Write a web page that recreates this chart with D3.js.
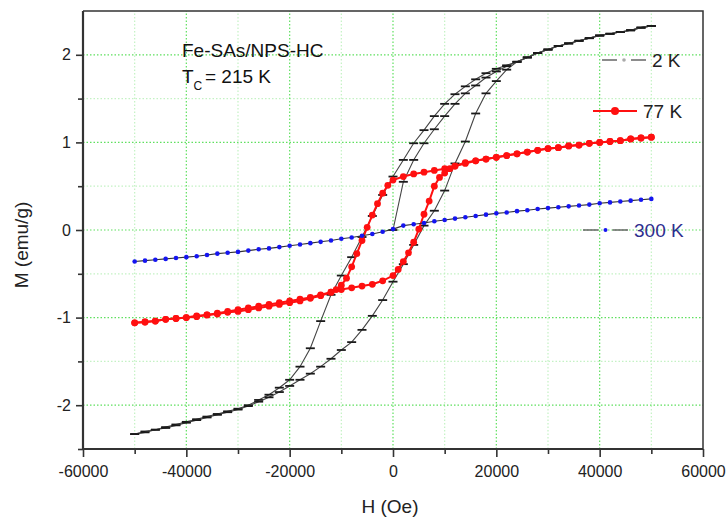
<!DOCTYPE html>
<html>
<head>
<meta charset="utf-8">
<script src="https://cdn.jsdelivr.net/npm/d3@7"></script>
<style>
  body { margin: 0; background: #fff; }
  svg { display: block; font-family: 'Liberation Sans', Arial, sans-serif; }
</style>
</head>
<body>
<div id="chart"></div>
<script>
// applied field (Oe) for the 2 K and 300 K sweeps
const fieldOe = [
  -50000, -48000, -46000, -44000, -42000, -40000, -38000, -36000, -34000, -32000,
  -30000, -28000, -26000, -24000, -22000, -20000, -18000, -16000, -14000, -12000,
  -10000, -8000, -6000, -4000, -2000, 0, 2000, 4000, 6000, 8000,
  10000, 12000, 14000, 16000, 18000, 20000, 22000, 24000, 26000, 28000,
  30000, 32000, 34000, 36000, 38000, 40000, 42000, 44000, 46000, 48000,
  50000
];

// 2 K: descending branch, ascending branch, virgin curve (H >= 0)
const m2kDown = [
  -2.33, -2.30, -2.28, -2.25, -2.22, -2.19, -2.16, -2.13, -2.10, -2.07,
  -2.04, -2.00, -1.94, -1.88, -1.80, -1.71, -1.56, -1.35, -1.04, -0.74,
  -0.52, -0.31, -0.08, 0.16, 0.40, 0.61, 0.80, 0.99, 1.14, 1.30,
  1.44, 1.55, 1.64, 1.72, 1.79, 1.84, 1.88, 1.92, 1.97, 2.02,
  2.06, 2.10, 2.13, 2.16, 2.19, 2.22, 2.24, 2.26, 2.28, 2.31,
  2.33
];
const m2kUp = [
  -2.33, -2.31, -2.28, -2.26, -2.23, -2.20, -2.17, -2.14, -2.11, -2.08,
  -2.05, -2.01, -1.96, -1.91, -1.85, -1.78, -1.71, -1.64, -1.56, -1.47,
  -1.37, -1.28, -1.14, -0.98, -0.80, -0.59, -0.39, -0.17, 0.05, 0.22,
  0.45, 0.76, 1.01, 1.33, 1.56, 1.70, 1.83, 1.92, 1.97, 2.02,
  2.06, 2.10, 2.13, 2.16, 2.19, 2.22, 2.24, 2.26, 2.28, 2.31,
  2.33
];
const m2kVirgin = [
  0.00, 0.55, 0.80, 0.99, 1.15, 1.30, 1.44, 1.56, 1.65, 1.74,
  1.81, 1.87, 1.92, 1.97, 2.02, 2.06, 2.10, 2.13, 2.16, 2.19,
  2.22, 2.24, 2.26, 2.28, 2.31, 2.33
];

// 77 K, finer steps across the switching field
const field77Down = [
  -50000, -48000, -46000, -44000, -42000, -40000, -38000, -36000, -34000, -32000,
  -30000, -28000, -26000, -24000, -22000, -20000, -18000, -16000, -14000, -12000,
  -11000, -10000, -9000, -8000, -7000, -6000, -5000, -4000, -3000, -2000, -1000, 0,
  2000, 4000, 6000, 8000, 10000, 12000, 14000, 16000, 18000, 20000,
  22000, 24000, 26000, 28000, 30000, 32000, 34000, 36000, 38000, 40000,
  42000, 44000, 46000, 48000, 50000
];
const m77kDown = [
  -1.06, -1.05, -1.04, -1.02, -1.01, -1.00, -0.98, -0.97, -0.95, -0.93,
  -0.91, -0.89, -0.87, -0.85, -0.83, -0.81, -0.79, -0.77, -0.74, -0.71,
  -0.68, -0.63, -0.55, -0.42, -0.27, -0.12, 0.03, 0.17, 0.30, 0.42, 0.51, 0.57,
  0.61, 0.64, 0.66, 0.68, 0.70, 0.73, 0.76, 0.79, 0.81, 0.83,
  0.85, 0.87, 0.89, 0.91, 0.93, 0.94, 0.96, 0.97, 0.99, 1.00,
  1.01, 1.02, 1.04, 1.05, 1.06
];
const field77Up = [
  -50000, -48000, -46000, -44000, -42000, -40000, -38000, -36000, -34000, -32000,
  -30000, -28000, -26000, -24000, -22000, -20000, -18000, -16000, -14000, -12000,
  -10000, -8000, -6000, -4000, -2000, 0,
  1000, 2000, 3000, 4000, 5000, 6000, 7000, 8000, 9000, 10000, 11000, 12000,
  14000, 16000, 18000, 20000, 22000, 24000, 26000, 28000, 30000, 32000,
  34000, 36000, 38000, 40000, 42000, 44000, 46000, 48000, 50000
];
const m77kUp = [
  -1.06, -1.05, -1.04, -1.02, -1.01, -1.00, -0.99, -0.97, -0.96, -0.94,
  -0.93, -0.91, -0.89, -0.87, -0.85, -0.83, -0.81, -0.78, -0.75, -0.71,
  -0.68, -0.66, -0.64, -0.62, -0.58, -0.52,
  -0.45, -0.36, -0.26, -0.14, 0.01, 0.18, 0.33, 0.50, 0.60, 0.65, 0.70, 0.73,
  0.77, 0.79, 0.81, 0.83, 0.85, 0.87, 0.89, 0.91, 0.93, 0.94,
  0.96, 0.97, 0.99, 1.00, 1.01, 1.02, 1.04, 1.05, 1.06
];

// 300 K
const m300k = [
  -0.36, -0.35, -0.34, -0.33, -0.32, -0.31, -0.30, -0.285, -0.27, -0.26,
  -0.25, -0.235, -0.22, -0.21, -0.195, -0.18, -0.165, -0.15, -0.135, -0.12,
  -0.10, -0.085, -0.065, -0.045, -0.02, 0.01, 0.05, 0.065, 0.08, 0.10,
  0.115, 0.13, 0.145, 0.16, 0.175, 0.19, 0.20, 0.215, 0.225, 0.24,
  0.25, 0.26, 0.27, 0.28, 0.29, 0.305, 0.315, 0.325, 0.335, 0.345,
  0.355
];

const xTicks = [-60000, -40000, -20000, 0, 20000, 40000, 60000];
const xMinor = [-50000, -30000, -10000, 10000, 30000, 50000];
const yTicks = [-2, -1, 0, 1, 2];
const yMinor = [-2.5, -1.5, -0.5, 0.5, 1.5];

const width = 726;
const height = 518;
const margin = { top: 11, left: 83, bottom: 69, right: 23 };

const svg = d3
  .select('#chart')
  .append('svg')
  .attr('width', width)
  .attr('height', height);

const x = d3
  .scaleLinear()
  .domain([-60000, 60000])
  .range([margin.left, width - margin.right]);

const y = d3
  .scaleLinear()
  .domain([-2.5, 2.5])
  .range([height - margin.bottom, margin.top]);

const x0 = x.range()[0], x1 = x.range()[1];
const y0 = y.range()[0], y1 = y.range()[1];

// dotted green grid, brighter on major ticks
const grid = svg.append('g').attr('fill', 'none').attr('stroke-dasharray', '1.5 2').attr('stroke-width', 1.2);
const gridLines = (vals, vertical, color) => {
  grid
    .append('g')
    .selectAll('line')
    .data(vals.filter((v) => (vertical ? v > -60000 && v < 60000 : v > -2.5 && v < 2.5)))
    .join('line')
    .attr('x1', (d) => (vertical ? x(d) : x0))
    .attr('x2', (d) => (vertical ? x(d) : x1))
    .attr('y1', (d) => (vertical ? y0 : y(d)))
    .attr('y2', (d) => (vertical ? y1 : y(d)))
    .attr('stroke', color);
};
gridLines(xMinor, true, '#c4f2c4');
gridLines(yMinor, false, '#c4f2c4');
gridLines(xTicks, true, '#5fe05f');
gridLines(yTicks, false, '#5fe05f');

// axes
const fmt = (d) => String(d);
const styleAxis = (g) => {
  g.select('.domain').remove();
  g.selectAll('.tick line').attr('stroke', '#333').attr('stroke-width', 1.6);
  g.selectAll('.tick text').attr('fill', '#222').attr('font-size', 16).attr('font-family', "'Liberation Sans', Arial, sans-serif");
};

svg.append('g')
  .attr('transform', `translate(0,${y0})`)
  .call(d3.axisBottom(x).tickValues(xTicks).tickSize(8).tickSizeOuter(0).tickPadding(9).tickFormat(fmt))
  .call(styleAxis);
svg.append('g')
  .attr('transform', `translate(0,${y0})`)
  .call(d3.axisBottom(x).tickValues(xMinor).tickSize(5).tickSizeOuter(0).tickFormat(''))
  .call(styleAxis);
svg.append('g')
  .attr('transform', `translate(${x0},0)`)
  .call(d3.axisLeft(y).tickValues(yTicks).tickSize(7).tickSizeOuter(0).tickPadding(5).tickFormat(fmt))
  .call(styleAxis);
svg.append('g')
  .attr('transform', `translate(${x0},0)`)
  .call(d3.axisLeft(y).tickValues(yMinor).tickSize(5).tickSizeOuter(0).tickFormat(''))
  .call(styleAxis);

// frame
svg.append('path')
  .attr('d', `M${x0},${y1}H${x1}V${y0}`)
  .attr('fill', 'none').attr('stroke', '#333').attr('stroke-width', 1.5);
svg.append('path')
  .attr('d', `M${x0},${y1}V${y0}H${x1}`)
  .attr('fill', 'none').attr('stroke', '#333').attr('stroke-width', 2.2);

// axis titles
svg.append('text')
  .attr('x', (x0 + x1) / 2 - 3).attr('y', 513)
  .attr('text-anchor', 'middle').attr('font-size', 19).attr('fill', '#222')
  .text('H (Oe)');
svg.append('text')
  .attr('transform', 'translate(28,245) rotate(-90)')
  .attr('text-anchor', 'middle').attr('font-size', 19).attr('fill', '#222')
  .text('M (emu/g)');

const line = d3.line().x((d) => x(d[0])).y((d) => y(d[1]));
const pairs = (hs, ms) => ms.map((m, i) => [hs[i], m]);

const drawBars = (pts) => {
  const g = svg.append('g');
  g.append('path').datum(pts).attr('d', line)
    .attr('fill', 'none').attr('stroke', '#444').attr('stroke-width', 1.1);
  g.selectAll('line').data(pts).join('line')
    .attr('x1', (d) => x(d[0]) - 4.5).attr('x2', (d) => x(d[0]) + 4.5)
    .attr('y1', (d) => y(d[1])).attr('y2', (d) => y(d[1]))
    .attr('stroke', '#1a1a1a').attr('stroke-width', 1.8);
};

// 2 K
drawBars(pairs(fieldOe, m2kDown));
drawBars(pairs(fieldOe, m2kUp));
drawBars(pairs(fieldOe.slice(25), m2kVirgin));

// 77 K
[[field77Down, m77kDown], [field77Up, m77kUp]].forEach(([hs, ms]) => {
  const pts = pairs(hs, ms);
  const g = svg.append('g');
  g.append('path').datum(pts).attr('d', line)
    .attr('fill', 'none').attr('stroke', '#ff1010').attr('stroke-width', 2);
  g.selectAll('circle').data(pts).join('circle')
    .attr('cx', (d) => x(d[0])).attr('cy', (d) => y(d[1]))
    .attr('r', 3.4).attr('fill', '#ff1010');
});

// 300 K
{
  const pts = pairs(fieldOe, m300k);
  const g = svg.append('g');
  g.append('path').datum(pts).attr('d', line)
    .attr('fill', 'none').attr('stroke', '#333').attr('stroke-width', 1.1);
  g.selectAll('circle').data(pts).join('circle')
    .attr('cx', (d) => x(d[0])).attr('cy', (d) => y(d[1]))
    .attr('r', 2.3).attr('fill', '#1515f0');
}

// sample label
svg.append('text')
  .attr('x', 182).attr('y', 57).attr('font-size', 19).attr('fill', '#111')
  .text('Fe-SAs/NPS-HC');
const tc = svg.append('text').attr('x', 182).attr('y', 83).attr('font-size', 19).attr('fill', '#111');
tc.append('tspan').text('T');
tc.append('tspan').attr('font-size', 12).attr('dy', 7).text('C');
tc.append('tspan').attr('x', 205).attr('dy', -7).text('= 215 K');

// legend
const legend = svg.append('g');
const legendItem = (ly, lx0, lx1, text, color, textColor, marker) => {
  const g = legend.append('g');
  const mid = (lx0 + lx1) / 2;
  if (marker === 'red') {
    g.append('line').attr('x1', lx0).attr('x2', lx1).attr('y1', ly).attr('y2', ly)
      .attr('stroke', color).attr('stroke-width', 2);
    g.append('circle').attr('cx', mid).attr('cy', ly).attr('r', 4).attr('fill', color);
  } else {
    g.append('line').attr('x1', lx0).attr('x2', mid - 7).attr('y1', ly).attr('y2', ly)
      .attr('stroke', '#666').attr('stroke-width', 1.5);
    g.append('line').attr('x1', mid + 7).attr('x2', lx1).attr('y1', ly).attr('y2', ly)
      .attr('stroke', '#666').attr('stroke-width', 1.5);
    g.append('circle').attr('cx', mid).attr('cy', ly).attr('r', marker === 'blue' ? 2 : 1.8)
      .attr('fill', color);
  }
  g.append('text').attr('x', lx1 + 6).attr('y', ly + 6.5).attr('font-size', 19)
    .attr('fill', textColor).text(text);
};
legendItem(60, 602, 646, '2 K', '#aaa', '#222', 'grey');
legendItem(111, 593, 637, '77 K', '#ff1010', '#222', 'red');
legendItem(230, 583, 628, '300 K', '#1515f0', '#2e2e8e', 'blue');
</script>
</body>
</html>
